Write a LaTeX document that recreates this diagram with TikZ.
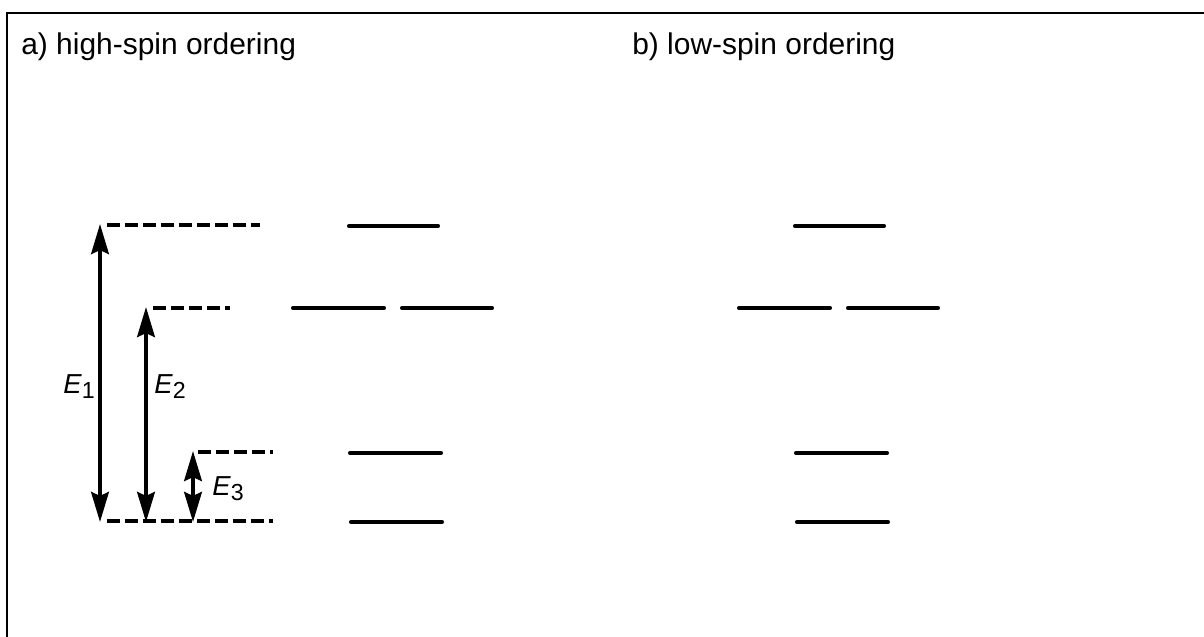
\documentclass[tikz,border=0pt]{standalone}
\usepackage{fontspec}
\setmainfont{Liberation Sans}
\usetikzlibrary{arrows.meta}

\newcommand{\gapsub}[1]{\raisebox{-3.6pt}{\fontsize{16.5}{19}\selectfont#1}}

\begin{document}
\begin{tikzpicture}[x=0.025cm,y=-0.025cm]
    \useasboundingbox (0,0) rectangle (1204,637);
    \tikzset{LevelStyle/.style = {line width=2.9pt, line cap=round}}
    \tikzset{GuideStyle/.style = {line width=2.8pt, dash pattern=on 9.2pt off 3.6pt}}
    \tikzset{GapStyle/.style = {line width=3pt,
        {Stealth[length=0.75cm,width=0.44cm,inset=0.1cm]}-{Stealth[length=0.75cm,width=0.44cm,inset=0.1cm]}}}
    \tikzset{TitleStyle/.style = {inner sep=0pt, anchor=base west, font=\fontsize{21.3}{25}\selectfont}}
    \tikzset{LabelStyle/.style = {inner sep=0pt, anchor=base west, font=\fontsize{19.5}{23}\selectfont}}

    \draw[line width=1.4pt] (7,637) -- (7,13) -- (1204,13);

    \node[TitleStyle] (HS) at (21,55) {a) high-spin ordering};
    \node[TitleStyle] (LS) at (632,55) {b) low-spin ordering};

    \foreach \dx/\p in {0/a, 446/b} {
        \coordinate (T1\p) at (349+\dx,226);
        \coordinate (T2\p) at (438+\dx,226);
        \coordinate (M1\p) at (293+\dx,308);
        \coordinate (M2\p) at (384+\dx,308);
        \coordinate (M3\p) at (402+\dx,308);
        \coordinate (M4\p) at (492+\dx,308);
        \coordinate (L1\p) at (350+\dx,453);
        \coordinate (L2\p) at (441+\dx,453);
        \coordinate (B1\p) at (351+\dx,522);
        \coordinate (B2\p) at (442+\dx,522);
        \draw[LevelStyle] (T1\p) -- (T2\p);
        \draw[LevelStyle] (M1\p) -- (M2\p);
        \draw[LevelStyle] (M3\p) -- (M4\p);
        \draw[LevelStyle] (L1\p) -- (L2\p);
        \draw[LevelStyle] (B1\p) -- (B2\p);
    }

    \coordinate (G1) at (107,225);
    \coordinate (G2) at (260,225);
    \coordinate (G3) at (153,308);
    \coordinate (G4) at (230,308);
    \coordinate (G5) at (198,452);
    \coordinate (G6) at (273,452);
    \coordinate (G7) at (107,521);
    \coordinate (G8) at (273,521);
    \draw[GuideStyle] (G1) -- (G2);
    \draw[GuideStyle] (G3) -- (G4);
    \draw[GuideStyle] (G5) -- (G6);
    \draw[GuideStyle] (G7) -- (G8);

    \coordinate (E1top) at (100,224);
    \coordinate (E1bot) at (100,522);
    \coordinate (E2top) at (146,307);
    \coordinate (E2bot) at (146,522);
    \coordinate (E3top) at (193,451);
    \coordinate (E3bot) at (193,522);
    \draw[GapStyle] (E1top) -- (E1bot);
    \draw[GapStyle] (E2top) -- (E2bot);
    \draw[GapStyle] (E3top) -- (E3bot);

    \node[LabelStyle] (E1) at (63,393) {\textit{E}\gapsub{1}};
    \node[LabelStyle] (E2) at (154,393) {\textit{E}\gapsub{2}};
    \node[LabelStyle] (E3) at (212,495) {\textit{E}\gapsub{3}};
\end{tikzpicture}
\end{document}
